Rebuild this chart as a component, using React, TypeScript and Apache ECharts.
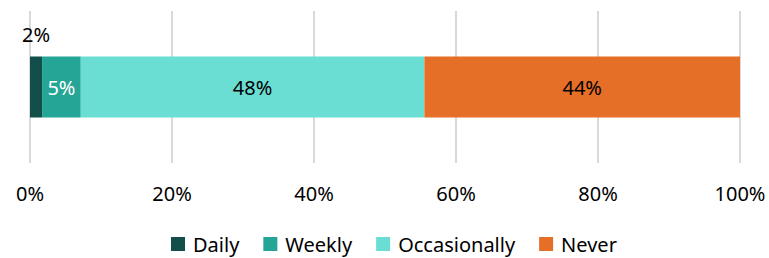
import React, { useEffect, useRef } from "react";
import * as echarts from "echarts";

const categories = ["Frequency"];
const seriesNames = ["Daily", "Weekly", "Occasionally", "Never"];
const daily = [1.7];
const weekly = [5.45];
const occasionally = [48.4];
const never = [44.45];
const xTicks = [0, 20, 40, 60, 80, 100];

const colors = ["#124F4A", "#25A596", "#6BDED4", "#E66F28"];
const FONT = "Noto Sans";

export default function App() {
  const ref = useRef<HTMLDivElement>(null);
  useEffect(() => {
    if (!ref.current) return;
    const chart = echarts.init(ref.current, null, { renderer: "svg" });
    const values = [daily, weekly, occasionally, never];
    const labelCfg = [
      { show: true, position: "top", distance: 12, color: "#000" },
      { show: true, position: "inside", color: "#fff" },
      { show: true, position: "inside", color: "#000" },
      { show: true, position: "inside", color: "#000" },
    ];
    chart.setOption({
      animation: false,
      textStyle: { fontFamily: FONT },
      grid: { left: 30, right: 29, top: 11, bottom: 95 },
      legend: {
        data: seriesNames,
        left: 166,
        top: 228,
        itemWidth: 14,
        itemHeight: 14,
        itemGap: 24,
        icon: "rect",
        textStyle: { fontFamily: FONT, fontSize: 20, lineHeight: 22, color: "#000", padding: [0, 0, 0, 3] },
      },
      xAxis: {
        type: "value",
        min: xTicks[0],
        max: xTicks[xTicks.length - 1],
        interval: 20,
        axisLine: { show: false },
        axisTick: { show: false },
        splitLine: { show: true, lineStyle: { color: "#d9d9d9", width: 2 } },
        axisLabel: {
          formatter: "{value}%",
          fontFamily: FONT,
          fontSize: 20,
          color: "#000",
          margin: 20,
        },
      },
      yAxis: {
        type: "category",
        data: categories,
        show: false,
      },
      series: seriesNames.map((name, i) => ({
        name,
        type: "bar",
        stack: "total",
        barWidth: 61,
        data: values[i],
        itemStyle: { color: colors[i] },
        label: {
          ...labelCfg[i],
          fontFamily: FONT,
          fontSize: 20,
          formatter: (p: any) => `${Math.round(p.value)}%`,
        },
      })),
    });
    return () => chart.dispose();
  }, []);
  return <div ref={ref} style={{ width: 769, height: 258, position: "absolute", left: 0, top: 0 }} />;
}
